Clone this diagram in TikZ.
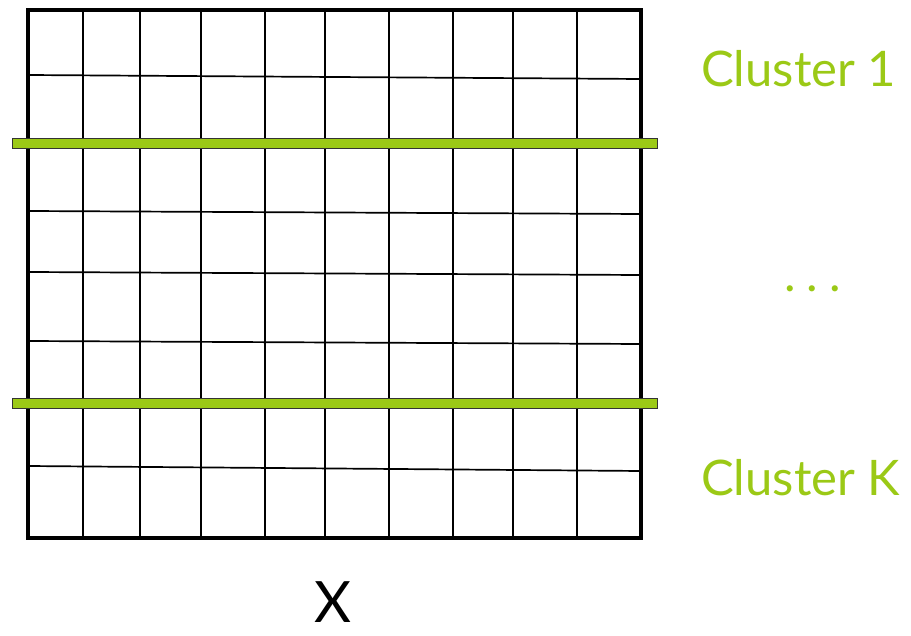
\documentclass[tikz,border=0pt]{standalone}
\usepackage{fontspec}
\setmainfont{Lato}
\usepackage{tikz}
\definecolor{clustergreen}{RGB}{155,201,22}

\begin{document}
\begin{tikzpicture}[x=1pt, y=-1pt]
\useasboundingbox (0,0) rectangle (911,636);
\foreach \x in {83,140,201,265,325,389,453,513,577}
  \draw[line width=1.7pt] (\x,10) -- (\x,538);
\foreach \l/\r in {75/79,211/214,272/275,341/344,466/471}
  \draw[line width=1.7pt] (28,\l) -- (641,\r);
\draw[line width=4.5pt] (28,10) rectangle (641,538);
\foreach \y in {139,399}
  \draw[fill=clustergreen, draw=black!80, line width=1pt] (12,\y) rectangle (657,\y+10);
\node[text=clustergreen, anchor=base west, inner sep=0pt, font=\fontsize{49}{52}\selectfont] (first) at (701,87) {Cluster 1};
\node[text=clustergreen, anchor=base west, inner sep=0pt, font=\fontsize{49}{52}\selectfont] (dots) at (784,292) {.\kern11pt.\kern11pt.};
\node[text=clustergreen, anchor=base west, inner sep=0pt, font=\fontsize{49}{52}\selectfont] (last) at (701,495) {Cluster K};
\node[anchor=base, inner sep=0pt, font=\fontsize{57}{60}\selectfont] (xlabel) at (333,622) {X};
\end{tikzpicture}
\end{document}
